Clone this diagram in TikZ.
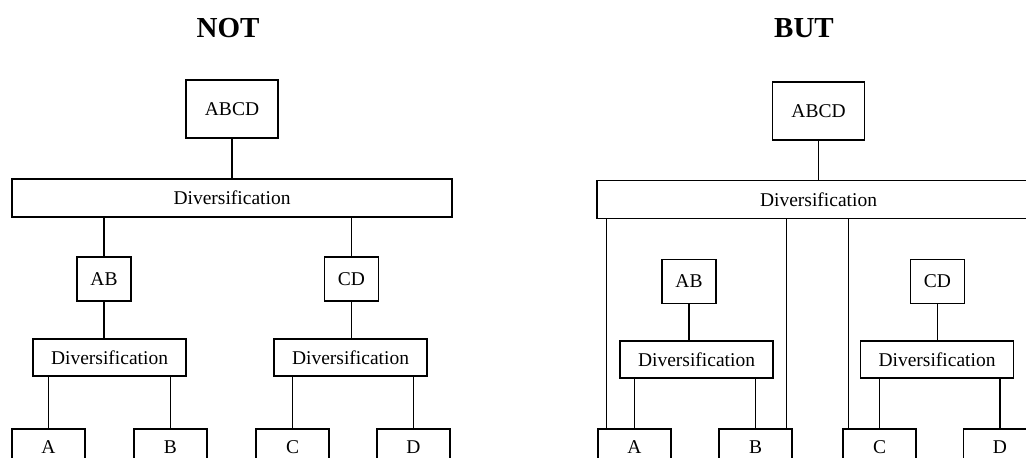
\documentclass[tikz,border=0pt]{standalone}
\usepackage{fontspec}
\setmainfont{Liberation Serif}
\usetikzlibrary{positioning}

\begin{document}
\begin{tikzpicture}[
    x=0.5pt, y=-0.5pt,
    line width=0.6pt,
    box/.style={rectangle,draw,inner sep=0pt,font=\fontsize{9.75}{11}\selectfont},
    topbox/.style={box,minimum width=46pt,minimum height=29pt},
    bigdiv/.style={box,minimum width=220pt,minimum height=19pt},
    pairbox/.style={box,minimum width=27pt,minimum height=22pt},
    divbox/.style={box,minimum width=76.5pt,minimum height=18.5pt},
    leafbox/.style={box,minimum width=36.5pt,minimum height=18pt},
    title/.style={font=\bfseries\fontsize{14.5}{16}\selectfont}
]
    \useasboundingbox (0,0) rectangle (1026,457);
    \clip (0,0) rectangle (1026,457);

    % NOT
    \node[title] (notT) at (228,28) {NOT};
    \node[topbox] (abcdL) at (232,109) {ABCD};
    \node[bigdiv] (divL) at (232,198) {Diversification};
    \node[pairbox] (abL) at (104,279) {AB};
    \node[pairbox] (cdL) at (351.5,279) {CD};
    \node[divbox] (divabL) at (109.5,357.5) {Diversification};
    \node[divbox] (divcdL) at (350.5,357.5) {Diversification};
    \node[leafbox] (aL) at (48.5,447) {A};
    \node[leafbox] (bL) at (170.5,447) {B};
    \node[leafbox] (cL) at (292.5,447) {C};
    \node[leafbox] (dL) at (413.5,447) {D};
    \draw (abcdL)--(divL);
    \draw (abL.north)--(abL.north |- divL.south);
    \draw (cdL.north)--(cdL.north |- divL.south);
    \draw (abL.south)--(abL.south |- divabL.north);
    \draw (cdL.south)--(cdL.south |- divcdL.north);
    \draw (aL.north)--(aL.north |- divabL.south);
    \draw (bL.north)--(bL.north |- divabL.south);
    \draw (cL.north)--(cL.north |- divcdL.south);
    \draw (dL.north)--(dL.north |- divcdL.south);

    % BUT
    \node[title] (butT) at (804,28) {BUT};
    \node[topbox] (abcdR) at (818.5,111) {ABCD};
    \node[bigdiv,minimum width=221.5pt] (divR) at (818.5,199.5) {Diversification};
    \node[pairbox] (abR) at (689,281.5) {AB};
    \node[pairbox] (cdR) at (937.5,281.5) {CD};
    \node[divbox] (divabR) at (696.5,359.5) {Diversification};
    \node[divbox] (divcdR) at (937,359.5) {Diversification};
    \node[leafbox] (aR) at (634.5,447) {A};
    \node[leafbox] (bR) at (755.5,447) {B};
    \node[leafbox] (cR) at (879.5,447) {C};
    \node[leafbox] (dR) at (1000,447) {D};
    \draw (abcdR)--(divR);
    \draw (abR.south)--(abR.south |- divabR.north);
    \draw (cdR.south)--(cdR.south |- divcdR.north);
    \draw (aR.north)--(aR.north |- divabR.south);
    \draw (bR.north)--(bR.north |- divabR.south);
    \draw (cR.north)--(cR.north |- divcdR.south);
    \draw (dR.north)--(dR.north |- divcdR.south);
    \draw ([xshift=4.5pt]aR.north west)--([xshift=4.5pt]aR.north west |- divR.south);
    \draw ([xshift=-3pt]bR.north east)--([xshift=-3pt]bR.north east |- divR.south);
    \draw ([xshift=3pt]cR.north west)--([xshift=3pt]cR.north west |- divR.south);
\end{tikzpicture}
\end{document}
